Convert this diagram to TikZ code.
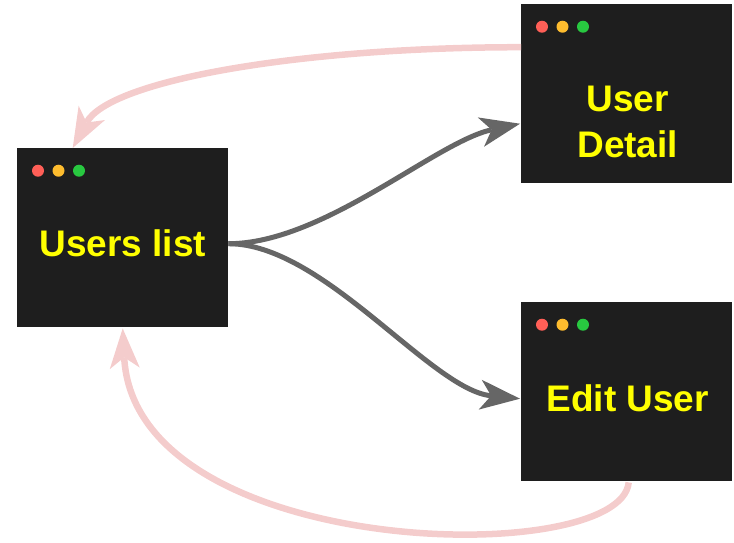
\documentclass[tikz,border=0pt]{standalone}
\usepackage{fontspec}
\setmainfont{Liberation Sans}
\usetikzlibrary{arrows.meta,calc}
\definecolor{winbg}{HTML}{1E1E1E}
\definecolor{dotred}{HTML}{FF5F57}
\definecolor{dotamber}{HTML}{FEBC2E}
\definecolor{dotgreen}{HTML}{28C840}
\definecolor{flowgrey}{HTML}{666666}
\definecolor{backpink}{HTML}{F4CCCC}
\definecolor{labelyellow}{HTML}{FFFF00}
\begin{document}
\begin{tikzpicture}[x=1pt,y=-1pt,
  window/.style={fill=winbg, minimum width=211pt, minimum height=179pt,
    inner sep=0pt, anchor=north west},
  wintitle/.style={text=labelyellow, font=\bfseries\fontsize{37}{46}\selectfont,
    align=center, inner sep=0pt},
  tip/.style={-{Stealth[length=40pt,width=30pt,inset=11pt,line width=0pt]}},
  flow/.style={draw=flowgrey, line width=5pt, tip},
  back/.style={draw=backpink, line width=6.5pt, tip}]
\useasboundingbox (0,0) rectangle (734,542);

% the three windows
\node[window] (users)  at (17,148) {};
\node[window] (detail) at (521,4)  {};
\node[window] (edit)   at (521,302) {};

% traffic-light buttons in each title bar
\foreach \w in {users,detail,edit}{
  \fill[dotred]   ($(\w.north west)+(21,22.7)$)   circle (6pt);
  \fill[dotamber] ($(\w.north west)+(41.5,22.7)$) circle (6pt);
  \fill[dotgreen] ($(\w.north west)+(62,22.7)$)   circle (6pt);
}

% window captions
\node[wintitle] (usersT)  at ($(users.center)+(0,6)$)  {Users list};
\node[wintitle] (detailT) at ($(detail.center)+(1,28)$) {User\\Detail};
\node[wintitle] (editT)   at ($(edit.center)+(1,6.5)$)  {Edit User};

% navigation from the list
\draw[flow] ($(users.east)+(0,6)$)
  .. controls ($(users.east)+(95,6)$) and ($(detail.west)+(-85,48)$)
  .. ($(detail.west)+(-1,30)$);
\draw[flow] ($(users.east)+(0,6)$)
  .. controls ($(users.east)+(95,6)$) and ($(edit.west)+(-90,-2)$)
  .. ($(edit.west)+(-1,7)$);

% returning back to the list
\draw[back] ($(detail.west)+(0,-46.5)$)
  .. controls ($(detail.west)+(-220,-46.5)$) and ($(users.north)+(-13,-68)$)
  .. ($(users.north)+(-50,0)$);
\draw[back] ($(edit.south)+(2,1)$)
  .. controls ($(edit.south)+(-6,88)$) and ($(users.south)+(12,233)$)
  .. ($(users.south)+(0,1)$);
\end{tikzpicture}
\end{document}
